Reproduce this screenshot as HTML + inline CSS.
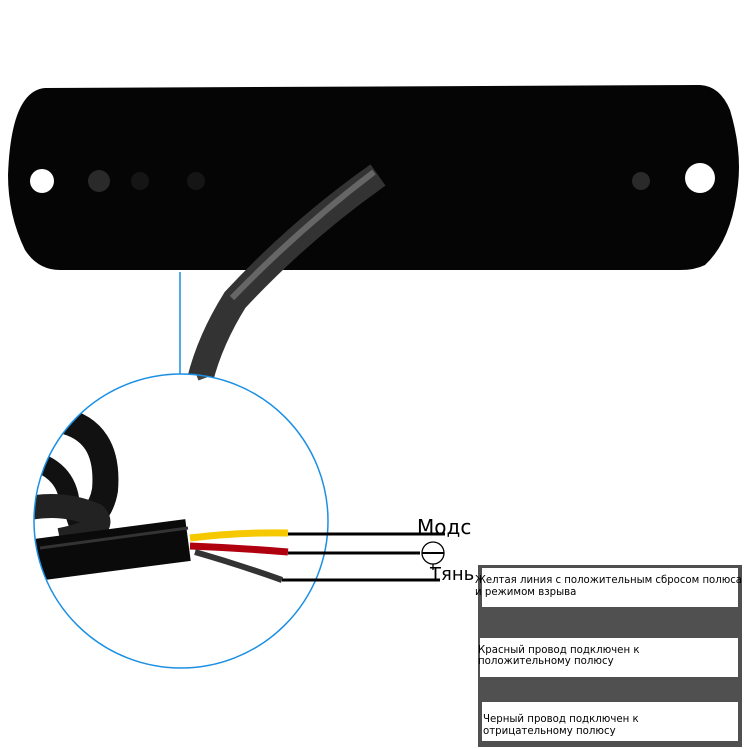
<!DOCTYPE html>
<html><head><meta charset="utf-8"><style>
body{margin:0;background:#fff;}
svg{display:block;font-family:"DejaVu Sans","Liberation Sans",sans-serif;}
</style></head><body>
<svg width="750" height="750" viewBox="0 0 750 750" xmlns="http://www.w3.org/2000/svg">
<path d="M45,88 L700,85 Q720,86 730,110 Q742,150 738,185 Q732,240 705,265 Q695,270 680,270 L60,270 Q38,270 25,250 Q8,215 8,175 Q10,120 25,100 Q33,89 45,88 Z" fill="#050505"/>
<circle cx="42" cy="181" r="12" fill="#fff"/>
<circle cx="700" cy="178" r="15" fill="#fff"/>
<circle cx="99" cy="181" r="11" fill="#2a2a2a"/>
<circle cx="140" cy="181" r="9" fill="#151515"/>
<circle cx="196" cy="181" r="9" fill="#151515"/>
<circle cx="641" cy="181" r="9" fill="#2a2a2a"/>
<path d="M378,175 Q300,230 235,300 Q210,340 200,380" stroke="#333" stroke-width="26" fill="none"/>
<path d="M374,172 Q300,228 232,298" stroke="#666" stroke-width="6" fill="none"/>
<line x1="180" y1="272" x2="180" y2="374" stroke="#1a8fe3" stroke-width="1.5"/>
<clipPath id="cc"><circle cx="181" cy="521" r="147"/></clipPath>
<circle cx="181" cy="521" r="147" fill="#fff"/>
<g clip-path="url(#cc)">
<path d="M200,365 L205,378" stroke="#444" stroke-width="14"/>
<path d="M60,420 Q110,430 105,490 Q100,520 70,530" stroke="#111" stroke-width="26" fill="none"/>
<path d="M30,460 Q70,470 70,510" stroke="#111" stroke-width="20" fill="none"/>
<path d="M20,510 Q60,500 95,515 Q110,530 60,540" stroke="#222" stroke-width="24" fill="none"/>
<path d="M20,562 L188,540" stroke="#0a0a0a" stroke-width="42" fill="none"/>
<path d="M40,548 L188,528" stroke="#333" stroke-width="3" fill="none"/>
</g>
<circle cx="181" cy="521" r="147" fill="none" stroke="#1a8fe3" stroke-width="1.5"/>
<path d="M190,538 Q240,532 288,533" stroke="#f5c800" stroke-width="7" fill="none"/>
<path d="M190,546 Q240,548 288,552" stroke="#b00010" stroke-width="7" fill="none"/>
<path d="M195,552 Q240,565 282,580" stroke="#333" stroke-width="6" fill="none"/>
<line x1="288" y1="534" x2="445" y2="534" stroke="#000" stroke-width="3"/>
<line x1="288" y1="553" x2="420" y2="553" stroke="#000" stroke-width="3"/>
<line x1="282" y1="580" x2="440" y2="580" stroke="#000" stroke-width="3"/>
<circle cx="433" cy="553" r="11" fill="#fff" stroke="#000" stroke-width="1.3"/>
<line x1="422" y1="553" x2="444" y2="553" stroke="#000" stroke-width="2"/>
<line x1="433" y1="564" x2="433" y2="570" stroke="#000" stroke-width="1.3"/>
<text x="417" y="534" font-size="20" fill="#000">Модс</text>
<text x="430" y="580" font-size="18" fill="#000">Тянь</text>
<rect x="478" y="565" width="264" height="182" fill="#505050"/>
<rect x="482" y="568" width="256" height="39" fill="#fff"/>
<rect x="480" y="638" width="258" height="39" fill="#fff"/>
<rect x="482" y="702" width="256" height="39" fill="#fff"/>
<g font-size="10.2" fill="#000">
<text x="475" y="583" textLength="267" lengthAdjust="spacingAndGlyphs">Желтая линия с положительным сбросом полюса</text>
<text x="475" y="595">и режимом взрыва</text>
<text x="478" y="653">Красный провод подключен к</text>
<text x="478" y="664">положительному полюсу</text>
<text x="483" y="722">Черный провод подключен к</text>
<text x="483" y="734">отрицательному полюсу</text>
</g>
</svg>
</body></html>
